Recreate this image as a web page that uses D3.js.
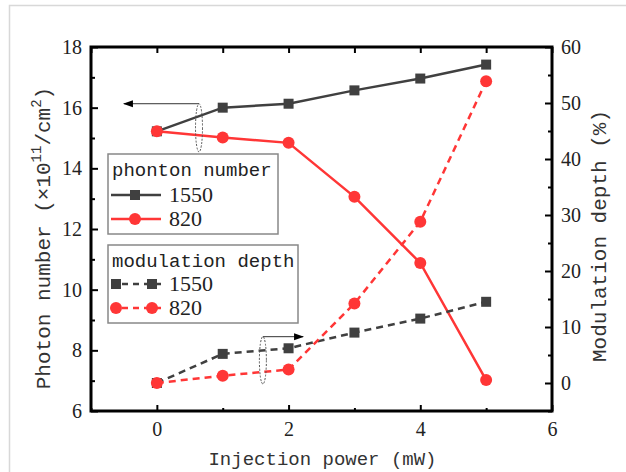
<!DOCTYPE html>
<html>
<head>
<meta charset="utf-8">
<script src="https://cdn.jsdelivr.net/npm/d3@7"></script>
<style>
  body { margin: 0; background: #fff; }
</style>
</head>
<body>
<div id="plot"></div>
<script>
const FRAME_WIDTH = 626;
const FRAME_HEIGHT = 472;
const MARGIN = {left: 91, right: 74, top: 47, bottom: 61};
const MONO = "'Liberation Mono'";
const SERIF = "'Liberation Serif'";

// data
const power = [0, 1, 2, 3, 4, 5];
const photon1550 = [15.22, 16.0, 16.13, 16.57, 16.96, 17.42];
const photon820 = [15.22, 15.02, 14.84, 13.06, 10.88, 7.02];
const mod1550 = [0, 5.2, 6.2, 9.0, 11.5, 14.5];
const mod820 = [0, 1.3, 2.4, 14.2, 28.8, 53.9];

const xTicks = [0, 2, 4, 6];
const xMinor = [-1, 1, 3, 5];
const yLeftTicks = [6, 8, 10, 12, 14, 16, 18];
const yLeftMinor = [7, 9, 11, 13, 15, 17];
const yRightTicks = [0, 10, 20, 30, 40, 50, 60];
const yRightMinor = [-5, 5, 15, 25, 35, 45, 55];

const GRAY = "#404040";
const RED = "#ff3636";

const VIS_WIDTH = FRAME_WIDTH - MARGIN.left - MARGIN.right;
const VIS_HEIGHT = FRAME_HEIGHT - MARGIN.top - MARGIN.bottom;

const FRAME = d3.select("#plot")
  .append("svg")
    .attr("width", FRAME_WIDTH)
    .attr("height", FRAME_HEIGHT);

// light border of the screenshot
FRAME.append("path")
  .attr("d", "M9.5," + FRAME_HEIGHT + "V5.5H" + FRAME_WIDTH)
  .attr("fill", "none")
  .attr("stroke", "#d8d8d8")
  .attr("stroke-width", 1.5);

const X_SCALE = d3.scaleLinear().domain([-1, 6]).range([MARGIN.left, MARGIN.left + VIS_WIDTH]);
const YL_SCALE = d3.scaleLinear().domain([6, 18]).range([MARGIN.top + VIS_HEIGHT, MARGIN.top]);
const YR_SCALE = d3.scaleLinear().domain([-5, 60]).range([MARGIN.top + VIS_HEIGHT, MARGIN.top]);

const defs = FRAME.append("defs");
defs.append("marker")
    .attr("id", "arrow")
    .attr("viewBox", "0 0 10 10")
    .attr("refX", 9).attr("refY", 5)
    .attr("markerWidth", 10).attr("markerHeight", 10)
    .attr("markerUnits", "userSpaceOnUse")
    .attr("orient", "auto")
  .append("path")
    .attr("d", "M0,1.5L10,5L0,8.5Z")
    .attr("fill", "#000");

// axes
function styleAxis(g) {
  g.select(".domain").remove();
  g.selectAll(".tick line").attr("stroke", "#000").attr("stroke-width", 2);
  g.selectAll("text")
    .style("font-family", SERIF)
    .style("font-size", "20px")
    .attr("fill", "#222");
}

const bottomY = MARGIN.top + VIS_HEIGHT;
const rightX = MARGIN.left + VIS_WIDTH;

FRAME.append("g").attr("transform", "translate(0," + bottomY + ")")
  .call(d3.axisBottom(X_SCALE).tickValues(xTicks).tickSize(-6).tickPadding(11).tickFormat(d3.format("d")))
  .call(styleAxis);
FRAME.append("g").attr("transform", "translate(0," + bottomY + ")")
  .call(d3.axisBottom(X_SCALE).tickValues(xMinor).tickSize(-3).tickFormat(""))
  .call(styleAxis);
FRAME.append("g").attr("transform", "translate(0," + MARGIN.top + ")")
  .call(d3.axisTop(X_SCALE).tickValues(xTicks.concat(xMinor)).tickSize(-6).tickFormat(""))
  .call(styleAxis);

FRAME.append("g").attr("transform", "translate(" + MARGIN.left + ",0)")
  .call(d3.axisLeft(YL_SCALE).tickValues(yLeftTicks).tickSize(-7).tickPadding(9))
  .call(styleAxis);
FRAME.append("g").attr("transform", "translate(" + MARGIN.left + ",0)")
  .call(d3.axisLeft(YL_SCALE).tickValues(yLeftMinor).tickSize(-4).tickFormat(""))
  .call(styleAxis);

FRAME.append("g").attr("transform", "translate(" + rightX + ",0)")
  .call(d3.axisRight(YR_SCALE).tickValues(yRightTicks).tickSize(-7).tickPadding(9))
  .call(styleAxis);
FRAME.append("g").attr("transform", "translate(" + rightX + ",0)")
  .call(d3.axisRight(YR_SCALE).tickValues(yRightMinor).tickSize(-4).tickFormat(""))
  .call(styleAxis);

FRAME.append("rect")
  .attr("x", MARGIN.left).attr("y", MARGIN.top)
  .attr("width", VIS_WIDTH).attr("height", VIS_HEIGHT)
  .attr("fill", "none").attr("stroke", "#000").attr("stroke-width", 3);

// series
const series = [
  {ys: photon1550, scale: YL_SCALE, color: GRAY, dash: null, shape: "square"},
  {ys: photon820, scale: YL_SCALE, color: RED, dash: null, shape: "circle"},
  {ys: mod1550, scale: YR_SCALE, color: GRAY, dash: "7,5", shape: "square"},
  {ys: mod820, scale: YR_SCALE, color: RED, dash: "7,5", shape: "circle"}
];

function drawMarker(g, shape, color, cx, cy) {
  if (shape === "square") {
    g.append("rect").attr("x", cx - 5).attr("y", cy - 5).attr("width", 10).attr("height", 10).attr("fill", color);
  } else {
    g.append("circle").attr("cx", cx).attr("cy", cy).attr("r", 6).attr("fill", color);
  }
}

series.forEach(s => {
  const line = d3.line().x((d, i) => X_SCALE(power[i])).y(d => s.scale(d));
  FRAME.append("path")
    .attr("d", line(s.ys))
    .attr("fill", "none")
    .attr("stroke", s.color)
    .attr("stroke-width", 2.5)
    .attr("stroke-dasharray", s.dash);
  const g = FRAME.append("g");
  s.ys.forEach((d, i) => drawMarker(g, s.shape, s.color, X_SCALE(power[i]), s.scale(d)));
});

// annotations: ellipse + arrow to the axis used
function annotate(cx, yTop, yBot, xEnd) {
  const x = X_SCALE(cx), y1 = YL_SCALE(yTop), y2 = YL_SCALE(yBot);
  FRAME.append("ellipse")
    .attr("cx", x).attr("cy", (y1 + y2) / 2)
    .attr("rx", 3.5).attr("ry", (y2 - y1) / 2)
    .attr("fill", "none").attr("stroke", "#555").attr("stroke-width", 1)
    .attr("stroke-dasharray", "2,1.5");
  FRAME.append("line")
    .attr("x1", x).attr("y1", y1)
    .attr("x2", X_SCALE(xEnd)).attr("y2", y1)
    .attr("stroke", "#333").attr("stroke-width", 1)
    .attr("marker-end", "url(#arrow)");
}
annotate(0.64, 16.13, 14.54, -0.5);
annotate(1.61, 8.45, 6.89, 2.22);

// legends
const legends = [
  {title: "phonton number", x: 108, y: 154, w: 170, h: 80, entries: [
    {label: "1550", s: series[0]}, {label: "820", s: series[1]}]},
  {title: "modulation depth", x: 108, y: 245, w: 190, h: 78, entries: [
    {label: "1550", s: series[2]}, {label: "820", s: series[3]}]}
];

legends.forEach((L, k) => {
  const g = FRAME.append("g");
  g.append("rect")
    .attr("x", L.x).attr("y", L.y).attr("width", L.w).attr("height", L.h)
    .attr("fill", "#fff").attr("stroke", "#888").attr("stroke-width", 1.5);
  g.append("text")
    .style("font-family", MONO).style("font-size", "19px").attr("fill", "#222")
    .attr("x", L.x + 4).attr("y", L.y + 22)
    .text(L.title);
  L.entries.forEach((e, i) => {
    const cy = L.y + (k === 0 ? 41 : 39) + i * 24;
    g.append("line")
      .attr("x1", L.x + 3).attr("x2", L.x + 53)
      .attr("y1", cy).attr("y2", cy)
      .attr("stroke", e.s.color).attr("stroke-width", 2.5)
      .attr("stroke-dasharray", e.s.dash ? "6,5" : null);
    if (e.s.dash) {
      drawMarker(g, e.s.shape, e.s.color, L.x + 8, cy);
      drawMarker(g, e.s.shape, e.s.color, L.x + 44, cy);
    } else {
      drawMarker(g, e.s.shape, e.s.color, L.x + 27, cy);
    }
    g.append("text")
      .style("font-family", SERIF).style("font-size", "22px").attr("fill", "#222")
      .attr("x", L.x + 61).attr("y", cy + 7)
      .text(e.label);
  });
});

// axis titles
FRAME.append("text")
  .style("font-family", MONO).style("font-size", "19px").attr("fill", "#333")
  .attr("text-anchor", "middle")
  .attr("x", (MARGIN.left + rightX) / 2 + 1).attr("y", 465)
  .text("Injection power  (mW)");

const yl = FRAME.append("text")
  .style("font-family", MONO).style("font-size", "21px").attr("fill", "#333")
  .attr("text-anchor", "middle")
  .attr("transform", "translate(50," + 238 + ") rotate(-90)");
yl.append("tspan").text("Photon number  (×10");
yl.append("tspan").style("font-size", "14px").attr("dy", -9).text("11");
yl.append("tspan").attr("dy", 9).text("/cm");
yl.append("tspan").style("font-size", "14px").attr("dy", -9).text("2");
yl.append("tspan").attr("dy", 9).text(")");

FRAME.append("text")
  .style("font-family", MONO).style("font-size", "21px").attr("fill", "#333")
  .attr("text-anchor", "middle")
  .attr("transform", "translate(606," + 236 + ") rotate(-90)")
  .text("Modulation depth  (%)");
</script>
</body>
</html>
